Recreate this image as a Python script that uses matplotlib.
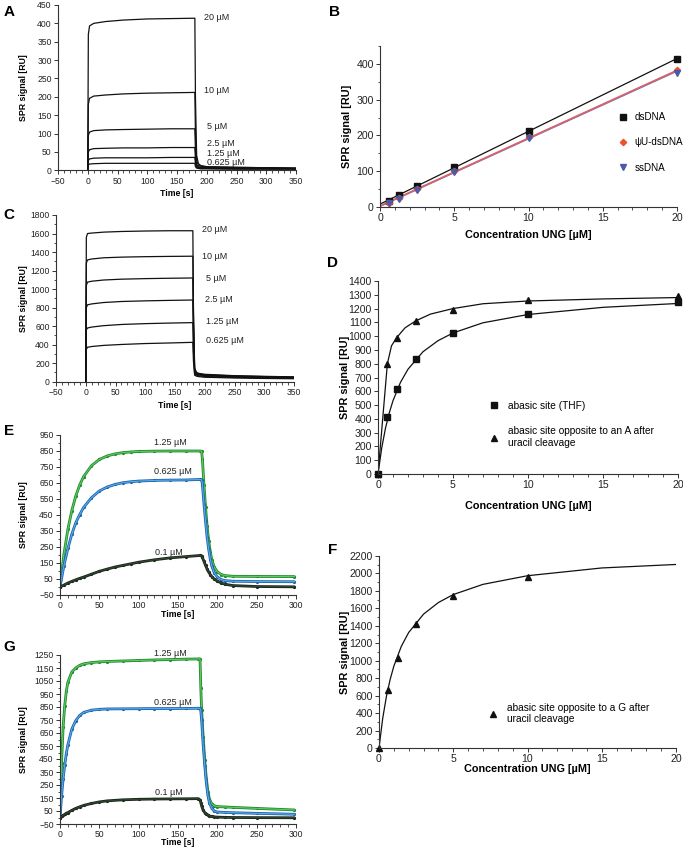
import numpy as np
import matplotlib
matplotlib.use("Agg")
import matplotlib.pyplot as plt
from matplotlib.ticker import MultipleLocator

plt.rcParams['font.family'] = ['Liberation Sans', 'DejaVu Sans']

# ---------------- Panel A (sensorgrams, dsDNA) ----------------
t_A = [0, 1, 3, 10, 30, 60, 100, 140, 180, 181, 183, 186, 190, 200, 250, 300, 350]
A_labels = ["20 µM", "10 µM", "5 µM", "2.5 µM", "1.25 µM", "0.625 µM"]
A_20 = [0, 370, 393, 400, 405, 409, 412, 413, 414, 200, 40, 18, 13, 10, 8, 7, 6]
A_10 = [0, 180, 196, 202, 205, 208, 210, 211, 212, 100, 25, 14, 11, 9, 8, 7, 6]
A_5 = [0, 95, 104, 108, 110, 111, 112, 113, 113, 55, 15, 10, 8, 7, 6, 6, 5]
A_2p5 = [0, 50, 56, 59, 60, 61, 61, 62, 62, 30, 10, 8, 7, 6, 5, 5, 4]
A_1p25 = [0, 27, 31, 33, 34, 34, 34, 35, 35, 18, 8, 6, 5, 5, 4, 4, 4]
A_0p625 = [0, 15, 17, 18, 19, 19, 19, 19, 19, 10, 6, 5, 4, 4, 3, 3, 3]
A_label_x = [195, 195, 200, 200, 200, 200]
A_label_y = [417, 218, 118, 72, 46, 22]

# ---------------- Panel C (sensorgrams, abasic) ----------------
t_C = [0, 1, 3, 10, 30, 60, 100, 140, 180, 181, 183, 186, 190, 200, 250, 300, 350]
C_labels = ["20 µM", "10 µM", "5 µM", "2.5 µM", "1.25 µM", "0.625 µM"]
C_20 = [0, 1560, 1600, 1605, 1615, 1622, 1627, 1630, 1630, 800, 150, 100, 90, 80, 65, 58, 52]
C_10 = [0, 1280, 1315, 1325, 1338, 1345, 1350, 1353, 1355, 700, 140, 95, 85, 75, 62, 55, 50]
C_5 = [0, 1040, 1075, 1085, 1098, 1107, 1113, 1117, 1120, 600, 130, 90, 80, 70, 58, 52, 47]
C_2p5 = [0, 800, 830, 840, 855, 866, 873, 878, 882, 450, 110, 80, 72, 64, 53, 47, 42]
C_1p25 = [0, 560, 580, 590, 605, 618, 627, 633, 638, 330, 90, 70, 63, 56, 46, 41, 37]
C_0p625 = [0, 350, 372, 380, 392, 402, 412, 418, 425, 220, 70, 60, 55, 48, 40, 35, 32]
C_label_x = [195, 195, 202, 200, 202, 202]
C_label_y = [1646, 1357, 1116, 890, 648, 450]

# ---------------- Panel B (linear binding) ----------------
B_conc = [0.625, 1.25, 2.5, 5, 10, 20]
B_ds = [18, 33, 60, 113, 212, 415]
B_psi = [12, 25, 50, 100, 195, 382]
B_ss = [10, 22, 47, 98, 193, 375]
B_fit_x = [0, 20]
B_ds_fit = [8, 415]
B_psi_fit = [3, 382]
B_ss_fit = [2, 380]

# ---------------- Panel D (saturation) ----------------
D_conc = [0, 0.625, 1.25, 2.5, 5, 10, 20]
D_thf = [0, 410, 615, 835, 1020, 1160, 1245]
D_opA = [0, 800, 990, 1110, 1190, 1260, 1290]
D_thf_fit_x = [0, 0.25, 0.5, 0.75, 1, 1.5, 2, 3, 4, 5, 7, 10, 15, 20]
D_thf_fit = [0, 190, 333, 443, 532, 665, 760, 887, 967, 1023, 1097, 1157, 1209, 1237]
D_opA_fit_x = [0, 0.625, 0.9, 1.25, 1.8, 2.5, 3.5, 5, 7, 10, 15, 20]
D_opA_fit = [0, 800, 930, 990, 1060, 1110, 1160, 1200, 1235, 1255, 1270, 1280]

# ---------------- Panel F (saturation, opposite G) ----------------
F_conc = [0, 0.625, 1.25, 2.5, 5, 10]
F_opG = [0, 670, 1030, 1420, 1740, 1965]
F_fit_x = [0, 0.25, 0.5, 0.75, 1, 1.5, 2, 3, 4, 5, 7, 10, 15, 20]
F_fit = [0, 340, 592, 785, 938, 1164, 1324, 1534, 1667, 1758, 1875, 1974, 2063, 2103]

# ---------------- Panel E (kinetics) ----------------
t_E = [0, 5, 10, 15, 20, 25, 30, 40, 50, 60, 70, 80, 90, 100, 120, 140, 160, 178,
       180, 181, 183, 185, 187, 189, 191, 193, 196, 200, 205, 210, 220, 250, 298]
E_1p25 = [0, 205, 360, 477, 568, 637, 690, 758, 797, 819, 832, 840, 844, 847, 849, 850, 850, 850,
          848, 800, 640, 500, 380, 290, 220, 170, 125, 95, 78, 71, 67, 66, 65]
E_0p625 = [0, 134, 241, 330, 401, 452, 497, 558, 600, 625, 641, 652, 658, 662, 666, 668, 669, 672,
           670, 640, 520, 410, 310, 235, 175, 130, 90, 62, 46, 40, 36, 34, 33]
E_0p1 = [0, 12, 25, 35, 45, 54, 62, 80, 98, 112, 125, 135, 145, 155, 170, 182, 190, 197,
         195, 185, 160, 135, 112, 93, 78, 65, 50, 37, 25, 17, 9, 3, 1]
E_labels = ["1.25 µM", "0.625 µM", "0.1 µM"]
E_label_x = [140, 144, 138]
E_label_y = [900, 721, 217]

# ---------------- Panel G (kinetics) ----------------
t_G = [0, 2, 4, 6, 8, 10, 15, 20, 25, 30, 40, 50, 60, 80, 100, 120, 140, 160, 176, 178,
       179, 180, 182, 184, 186, 188, 190, 193, 196, 200, 210, 220, 250, 298]
G_1p25 = [0, 420, 700, 860, 970, 1040, 1120, 1150, 1170, 1182, 1192, 1197, 1200, 1204, 1208, 1212,
          1215, 1218, 1220, 1220, 1000, 830, 620, 440, 300, 200, 140, 105, 90, 84, 81, 78, 70, 58]
G_0p625 = [0, 165, 300, 405, 490, 560, 680, 745, 785, 808, 826, 832, 835, 836, 837, 838, 838, 839,
           840, 840, 820, 750, 560, 400, 270, 170, 110, 70, 50, 42, 39, 37, 32, 25]
G_0p1 = [0, 8, 16, 24, 32, 38, 55, 70, 82, 93, 108, 120, 128, 136, 140, 142, 143, 144, 145, 135,
         115, 90, 55, 38, 28, 20, 12, 8, 5, 3, 1, 0, -1, -2]
G_labels = ["1.25 µM", "0.625 µM", "0.1 µM"]
G_label_x = [140, 144, 138]
G_label_y = [1263, 883, 191]

W, H = 683, 850
fig = plt.figure(figsize=(W / 100, H / 100), dpi=100)


def make_ax(left, right, top, bottom):
    return fig.add_axes([left / W, 1 - bottom / H, (right - left) / W, (bottom - top) / H])


def style(ax, tick_fs):
    for s in ("top", "right"):
        ax.spines[s].set_visible(False)
    for s in ("left", "bottom"):
        ax.spines[s].set_linewidth(0.8)
        ax.spines[s].set_color("#333333")
    ax.tick_params(which="major", direction="out", length=3, width=0.7, labelsize=tick_fs,
                   pad=1.5, colors="#333333", labelcolor="#222222")
    ax.tick_params(which="minor", direction="out", length=1.8, width=0.6, colors="#333333")


small_fs = 6.2
big_fs = 7.6
lab_small = dict(fontsize=6.3, fontweight="bold")
lab_big = dict(fontsize=7.8, fontweight="bold")

# ---------- A ----------
axA = make_ax(58, 296, 5, 170.3)
for y in [A_20, A_10, A_5, A_2p5, A_1p25, A_0p625]:
    axA.plot(t_A, y, color="#111111", lw=0.9)
for lbl, x, y in zip(A_labels, A_label_x, A_label_y):
    axA.text(x, y, lbl, fontsize=6.5, va="center", ha="left", color="#222222", clip_on=False)
axA.set_xlim(-50, 350)
axA.set_ylim(0, 450)
axA.set_xticks(np.arange(-50, 351, 50))
axA.xaxis.set_minor_locator(MultipleLocator(10))
axA.set_yticks(np.arange(0, 451, 50))
style(axA, small_fs)
axA.set_xlabel("Time [s]", **lab_small)
axA.set_ylabel("SPR signal [RU]", **lab_small)
axA.xaxis.set_label_coords(0.5, -0.113)
axA.yaxis.set_label_coords(-0.126, 0.5)

# ---------- C ----------
axC = make_ax(56, 294, 215, 381.7)
for y in [C_20, C_10, C_5, C_2p5, C_1p25, C_0p625]:
    axC.plot(t_C, y, color="#111111", lw=0.9)
for lbl, x, y in zip(C_labels, C_label_x, C_label_y):
    axC.text(x, y, lbl, fontsize=6.5, va="center", ha="left", color="#222222", clip_on=False)
axC.set_xlim(-50, 350)
axC.set_ylim(0, 1800)
axC.set_xticks(np.arange(-50, 351, 50))
axC.xaxis.set_minor_locator(MultipleLocator(10))
axC.set_yticks(np.arange(0, 1801, 200))
axC.yaxis.set_minor_locator(MultipleLocator(100))
style(axC, small_fs)
axC.set_xlabel("Time [s]", **lab_small)
axC.set_ylabel("SPR signal [RU]", **lab_small)
axC.xaxis.set_label_coords(0.5, -0.116)
axC.yaxis.set_label_coords(-0.118, 0.5)

# ---------- B ----------
axB = make_ax(380, 677, 46, 207)
axB.plot(B_fit_x, B_ds_fit, color="#111111", lw=0.9)
axB.plot(B_fit_x, B_ss_fit, color="#6a78c4", lw=1.2)
axB.plot(B_fit_x, B_psi_fit, color="#e06060", lw=1.2)
axB.plot(B_conc, B_ds, "s", color="#111111", ms=4.5, clip_on=False, label="dsDNA")
axB.plot(B_conc, B_psi, "D", color="#f0502a", ms=3.2, clip_on=False, label="ψU-dsDNA")
axB.plot(B_conc, B_ss, "v", color="#4a5aa8", ms=4.0, clip_on=False, label="ssDNA")
axB.set_xlim(0, 20)
axB.set_ylim(0, 450)
axB.set_xticks(np.arange(0, 21, 5))
axB.xaxis.set_minor_locator(MultipleLocator(1))
axB.set_yticks(np.arange(0, 401, 100))
axB.yaxis.set_minor_locator(MultipleLocator(50))
style(axB, big_fs)
axB.set_xlabel("Concentration UNG [µM]", **lab_big)
axB.set_ylabel("SPR signal [RU]", **lab_big)
axB.xaxis.set_label_coords(0.5, -0.143)
axB.yaxis.set_label_coords(-0.094, 0.5)
axB.legend(loc="upper left", bbox_to_anchor=(0.80, 0.59), frameon=False, fontsize=7.1,
           handlelength=1.0, handletextpad=0.7, labelspacing=1.55, borderaxespad=0, borderpad=0)

# ---------- D ----------
axD = make_ax(378, 678, 281, 474)
axD.plot(D_thf_fit_x, D_thf_fit, color="#111111", lw=0.9)
axD.plot(D_opA_fit_x, D_opA_fit, color="#111111", lw=0.9)
axD.plot(D_conc, D_thf, "s", color="#111111", ms=4.3, clip_on=False, label="abasic site (THF)")
axD.plot(D_conc, D_opA, "^", color="#111111", ms=4.3, clip_on=False,
         label="abasic site opposite to an A after\nuracil cleavage")
axD.set_xlim(0, 20)
axD.set_ylim(0, 1400)
axD.set_xticks(np.arange(0, 21, 5))
axD.xaxis.set_minor_locator(MultipleLocator(1))
axD.set_yticks(np.arange(0, 1401, 100))
style(axD, big_fs)
axD.set_xlabel("Concentration UNG [µM]", **lab_big)
axD.set_ylabel("SPR signal [RU]", **lab_big)
axD.xaxis.set_label_coords(0.5, -0.14)
axD.yaxis.set_label_coords(-0.093, 0.5)
axD.legend(loc="upper left", bbox_to_anchor=(0.37, 0.378), frameon=False, fontsize=7.3,
           handlelength=1.0, handletextpad=0.9, labelspacing=1.5, borderaxespad=0, borderpad=0)

# ---------- F ----------
axF = make_ax(379, 676, 556, 748)
axF.plot(F_fit_x, F_fit, color="#111111", lw=0.9)
axF.plot(F_conc, F_opG, "^", color="#111111", ms=4.3, clip_on=False,
         label="abasic site opposite to a G after\nuracil cleavage")
axF.set_xlim(0, 20)
axF.set_ylim(0, 2200)
axF.set_xticks(np.arange(0, 21, 5))
axF.xaxis.set_minor_locator(MultipleLocator(1))
axF.set_yticks(np.arange(0, 2201, 200))
axF.yaxis.set_minor_locator(MultipleLocator(100))
style(axF, big_fs)
axF.set_xlabel("Concentration UNG [µM]", **lab_big)
axF.set_ylabel("SPR signal [RU]", **lab_big)
axF.xaxis.set_label_coords(0.5, -0.085)
axF.yaxis.set_label_coords(-0.098, 0.5)
axF.legend(loc="upper left", bbox_to_anchor=(0.367, 0.235), frameon=False, fontsize=7.3,
           handlelength=1.0, handletextpad=0.9, borderaxespad=0, borderpad=0)

# ---------- E / G ----------
data_cols = ["#1d8a2c", "#1f62ad", "#1c221c"]
fit_cols = ["#63c963", "#55aee6", "#2f4a2f"]


def kinetics(ax, t, series, labels, lx, ly, ymax):
    for y, dc, fc in zip(series, data_cols, fit_cols):
        ax.plot(t, y, color=dc, lw=2.0, solid_capstyle="round")
        ax.plot(t, y, color=dc, ls="none", marker="o", ms=1.3)
        ax.plot(t, y, color=fc, lw=0.8)
    for lbl, x, y in zip(labels, lx, ly):
        ax.text(x, y, lbl, fontsize=6.5, ha="center", va="center", color="#222222", clip_on=False)
    ax.set_xlim(0, 300)
    ax.set_ylim(-50, ymax)
    ax.set_xticks(np.arange(0, 301, 50))
    ax.xaxis.set_minor_locator(MultipleLocator(10))
    ax.set_yticks(np.arange(-50, ymax + 1, 100))
    ax.yaxis.set_minor_locator(MultipleLocator(50))
    style(ax, small_fs)
    ax.set_xlabel("Time [s]", **lab_small)
    ax.set_ylabel("SPR signal [RU]", **lab_small)


axE = make_ax(60, 296, 435, 595)
kinetics(axE, t_E, [E_1p25, E_0p625, E_0p1], E_labels, E_label_x, E_label_y, 950)
axE.xaxis.set_label_coords(0.5, -0.094)
axE.yaxis.set_label_coords(-0.136, 0.5)

axG = make_ax(60, 296, 655, 824)
kinetics(axG, t_G, [G_1p25, G_0p625, G_0p1], G_labels, G_label_x, G_label_y, 1250)
axG.xaxis.set_label_coords(0.5, -0.083)
axG.yaxis.set_label_coords(-0.136, 0.5)

# ---------- panel letters ----------
for letter, x, y in [("A", 9, 12), ("B", 335, 12), ("C", 9, 215), ("D", 333, 263),
                     ("E", 9, 431), ("F", 333, 550), ("G", 9, 647)]:
    fig.text(x / W, 1 - y / H, letter, fontsize=11, fontweight="bold", ha="center", va="center")

fig.savefig("out.png", dpi=100)
